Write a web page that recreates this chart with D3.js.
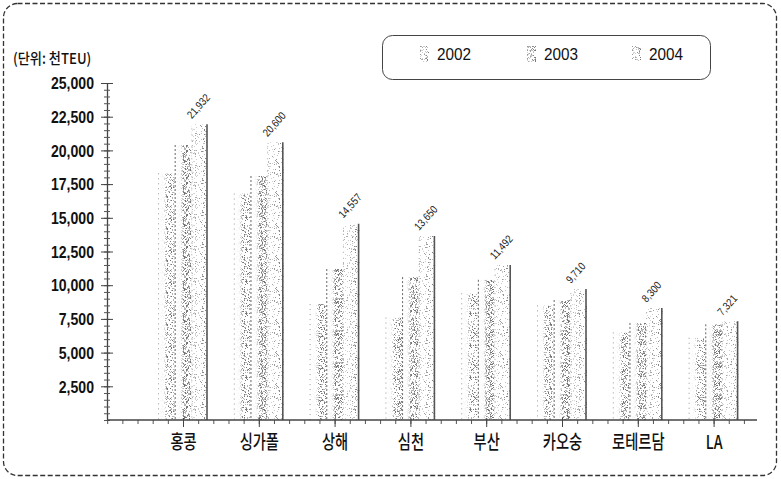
<!DOCTYPE html>
<html><head><meta charset="utf-8">
<script src="https://cdn.jsdelivr.net/npm/d3@7"></script>
<style>body{margin:0;background:#fff;} svg{display:block;}</style>
</head><body>
<svg id="c" width="781" height="479"></svg>
<script>
const categories = ["홍콩","싱가폴","상해","심천","부산","카오숭","로테르담","LA"];
const years = ["2002","2003","2004"];
const values2002 = [18300, 16800, 8600, 7600, 9400, 8500, 6500, 6100];
const values2003 = [20400, 18100, 11200, 10600, 10400, 8900, 7200, 7100];
const values2004 = [21932, 20600, 14557, 13650, 11492, 9710, 8300, 7321];
const yTickValues = [2500, 5000, 7500, 10000, 12500, 15000, 17500, 20000, 22500, 25000];
const unitLabel = "(단위: 천TEU)";

const series = years.map((yr, k) => ({year: yr, k: k, values: [values2002, values2003, values2004][k]}));

const svg = d3.select("#c");
const defs = svg.append("defs");

// stipple textures from a fixed integer hash (texture only, not data)
function hash(i, j, s) {
  let h = Math.imul(i, 374761393) + Math.imul(j, 668265263) + Math.imul(s, 1442695041);
  h = Math.imul(h ^ (h >>> 13), 1274126177);
  h ^= h >>> 16;
  return (h >>> 0) / 4294967296;
}
function pattern(id, size, density, seed) {
  const p = defs.append("pattern").attr("id", id).attr("patternUnits", "userSpaceOnUse")
    .attr("width", size).attr("height", size);
  for (let i = 0; i < size; i++) for (let j = 0; j < size; j++) {
    const h = hash(i, j, seed);
    if (h < density) p.append("rect").attr("x", i).attr("y", j).attr("width", 1).attr("height", 1)
      .attr("fill", h < density * 0.4 ? "#767676" : "#b4b4b4");
  }
}
pattern("pDense", 32, 0.4, 3);
pattern("pMid", 32, 0.28, 7);
pattern("pSparse", 32, 0.14, 11);

function gradMask(id, stops) {
  const g = defs.append("linearGradient").attr("id", id + "G").attr("x1", 0).attr("x2", 1).attr("y1", 0).attr("y2", 0);
  stops.forEach(s => g.append("stop").attr("offset", s[0]).attr("stop-color", "#fff").attr("stop-opacity", s[1]));
  const m = defs.append("mask").attr("id", id).attr("maskContentUnits", "objectBoundingBox");
  m.append("rect").attr("width", 1).attr("height", 1).attr("fill", `url(#${id}G)`);
}
gradMask("mRight", [[0, 0], [0.35, 0.1], [0.55, 1], [1, 1]]);
gradMask("mAll", [[0, 0.5], [1, 1]]);

// outer dashed frame
svg.append("rect").attr("x", 3.5).attr("y", 3.5).attr("width", 773).attr("height", 472).attr("rx", 14)
  .attr("fill", "none").attr("stroke", "#333").attr("stroke-width", 1.3).attr("stroke-dasharray", "5,2.5");

const y = d3.scaleLinear().domain([0, 25000]).range([420, 83]);
const x = d3.scaleBand().domain(categories).range([145.1, 751.5]);
const step = x.step();
const xs = d3.scaleBand().domain(years).range([-25, 25]);
const bw = xs.bandwidth();
const cx = c => x(c) + step / 2;

// bars
const gBars = svg.append("g");
series.forEach(s => {
  const g = gBars.append("g");
  categories.forEach((c, i) => {
    const v = s.values[i];
    const x0 = cx(c) + xs(s.year);
    const top = y(v);
    const h = y(0) - top;
    if (s.k < 2) {
      g.append("rect").attr("x", x0).attr("y", top).attr("width", bw).attr("height", h)
        .attr("fill", s.k === 0 ? "url(#pMid)" : "url(#pDense)").attr("mask", "url(#mRight)");
      g.append("line").attr("x1", x0 + 0.5).attr("x2", x0 + 0.5).attr("y1", top).attr("y2", y(0))
        .attr("stroke", s.k === 0 ? "#999" : "#666").attr("stroke-width", 1)
        .attr("stroke-dasharray", s.k === 0 ? "1,4" : "2,2");
    } else {
      g.append("rect").attr("x", x0).attr("y", top).attr("width", bw).attr("height", h)
        .attr("fill", "url(#pSparse)").attr("mask", "url(#mAll)");
      g.append("line").attr("x1", x0 + 0.5).attr("x2", x0 + 0.5).attr("y1", top + 4).attr("y2", y(0))
        .attr("stroke", "#aaa").attr("stroke-dasharray", "1,5");
      g.append("line").attr("x1", x0 + bw - 1).attr("x2", x0 + bw - 1).attr("y1", top).attr("y2", y(0))
        .attr("stroke", "#555").attr("stroke-width", 1.6);
      svg.append("text")
        .attr("transform", `translate(${x0 + bw / 2 - 8},${top - 5}) rotate(-48) scale(0.85,1)`)
        .attr("font-family", "Liberation Sans, Arial, sans-serif").attr("font-size", 11)
        .attr("fill", "#222").text(d3.format(",")(v));
    }
  });
});

// y axis
const yMinor = svg.append("g").attr("transform", "translate(107,0)")
  .call(d3.axisLeft(y).tickValues(d3.range(0, 25001, 500)).tickFormat("").tickSize(3).tickSizeOuter(0));
yMinor.selectAll(".tick line").attr("x1", 3).attr("stroke", "#555");
yMinor.select(".domain").attr("stroke", "#444").attr("stroke-width", 1.3);
const yMajor = svg.append("g").attr("transform", "translate(107,0)")
  .call(d3.axisLeft(y).tickValues(yTickValues).tickFormat(d3.format(",")).tickSize(6).tickSizeOuter(0));
yMajor.select(".domain").remove();
yMajor.selectAll(".tick line").attr("x1", 6).attr("stroke", "#444");
yMajor.selectAll(".tick text").attr("x", 0).attr("dy", "0.36em")
  .attr("transform", "translate(-13,0) scale(0.88,1)")
  .attr("font-family", "Liberation Sans, Arial, sans-serif").attr("font-size", 16).attr("font-weight", "bold").attr("fill", "#111");

// x axis
const xm = d3.scaleLinear().domain([0, 1]).range([cx(categories[0]), cx(categories[0]) + step]);
svg.append("g").attr("transform", "translate(0,420)")
  .call(d3.axisBottom(xm).tickValues(d3.range(-5, 38).map(k => k / 5)).tickFormat("").tickSize(4).tickSizeOuter(0))
  .call(g => g.select(".domain").remove())
  .selectAll(".tick line").attr("stroke", "#555");
svg.append("line").attr("x1", 107).attr("x2", 757).attr("y1", 420).attr("y2", 420)
  .attr("stroke", "#444").attr("stroke-width", 1.6);
const xAx = svg.append("g").attr("transform", "translate(0,420)")
  .call(d3.axisBottom(d3.scalePoint().domain(categories).range([cx(categories[0]), cx(categories[categories.length - 1])]))
    .tickSize(7).tickSizeOuter(0));
xAx.select(".domain").remove();
xAx.selectAll(".tick line").attr("y1", -2).attr("stroke", "#444");
xAx.selectAll(".tick text").attr("y", 0).attr("dy", 0)
  .attr("transform", "translate(0,29) scale(0.75,1)")
  .attr("font-family", "Noto Sans CJK KR, sans-serif").attr("font-size", 19).attr("font-weight", 500).attr("fill", "#111");

// unit label
svg.append("text").attr("transform", "translate(13,64) scale(0.88,1)")
  .attr("font-family", "Noto Sans CJK KR, sans-serif").attr("font-size", 15).attr("font-weight", 500)
  .attr("fill", "#111").text(unitLabel);

// legend
svg.append("rect").attr("x", 382.5).attr("y", 35.5).attr("width", 328).attr("height", 44).attr("rx", 10)
  .attr("fill", "#fff").attr("stroke", "#444").attr("stroke-width", 1);
const legX = d3.scaleOrdinal().domain(years).range([420, 527, 632]);
series.forEach(s => {
  const lx = legX(s.year);
  svg.append("rect").attr("x", lx).attr("y", 46).attr("width", 9).attr("height", 16)
    .attr("fill", s.k === 1 ? "url(#pDense)" : "url(#pMid)").attr("mask", "url(#mAll)");
  svg.append("line").attr("x1", lx + 0.5).attr("x2", lx + 0.5).attr("y1", 46).attr("y2", 62)
    .attr("stroke", "#999").attr("stroke-dasharray", "1,3");
  svg.append("text").attr("transform", `translate(${lx + 17},60) scale(0.9,1)`)
    .attr("font-family", "Liberation Sans, Arial, sans-serif").attr("font-size", 17)
    .attr("fill", "#111").text(s.year);
});
</script>
</body></html>
